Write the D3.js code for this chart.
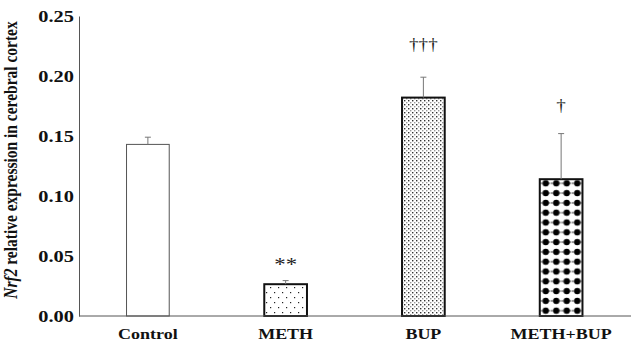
<!DOCTYPE html>
<html>
<head>
<meta charset="utf-8">
<script src="https://cdn.jsdelivr.net/npm/d3@7"></script>
<style>
  body { margin: 0; background: #fff; }
</style>
</head>
<body>
<div id="chart"></div>
<script>
// chart data
const groups = ["Control", "METH", "BUP", "METH+BUP"];
const means = [0.143, 0.0265, 0.182, 0.114];
const errors = [0.006, 0.003, 0.017, 0.038];
const marks = ["", "**", "\u2020\u2020\u2020", "\u2020"];
const yTicks = [0, 0.05, 0.10, 0.15, 0.20, 0.25];

const width = 631, height = 343;
const serif = "'Liberation Serif', 'Times New Roman', serif";
const stretch = 1.2; // the original figure is a bit wider than tall

const svg = d3.select("#chart").append("svg")
    .attr("width", width)
    .attr("height", height);

// patterns for the bars
const defs = svg.append("defs");

// sparse dots (METH)
const p1 = defs.append("pattern").attr("id", "sparse")
    .attr("patternUnits", "userSpaceOnUse").attr("width", 8).attr("height", 10);
p1.append("rect").attr("width", 8).attr("height", 10).attr("fill", "#fff");
p1.append("rect").attr("x", 2).attr("y", 2).attr("width", 1.2).attr("height", 1.2).attr("fill", "#222");
p1.append("rect").attr("x", 6).attr("y", 7).attr("width", 1.2).attr("height", 1.2).attr("fill", "#222");

// dense grey dots (BUP)
const p2 = defs.append("pattern").attr("id", "dense")
    .attr("patternUnits", "userSpaceOnUse").attr("width", 4).attr("height", 4);
p2.append("rect").attr("width", 4).attr("height", 4).attr("fill", "#fff");
p2.append("rect").attr("x", 0).attr("y", 0).attr("width", 1.4).attr("height", 1.4).attr("fill", "#333");
p2.append("rect").attr("x", 2).attr("y", 2).attr("width", 1.4).attr("height", 1.4).attr("fill", "#999");

// big black dots (METH+BUP)
const p3 = defs.append("pattern").attr("id", "bigdots")
    .attr("patternUnits", "userSpaceOnUse").attr("width", 10.5).attr("height", 9.8)
    .attr("x", 540.5).attr("y", 2);
p3.append("rect").attr("width", 10.5).attr("height", 9.8).attr("fill", "#fff");
p3.append("line").attr("x1", 0).attr("x2", 10.5).attr("y1", 4.9).attr("y2", 4.9)
    .attr("stroke", "#000").attr("stroke-width", 0.8).attr("stroke-dasharray", "2,2");
p3.append("circle").attr("cx", 5.25).attr("cy", 4.9).attr("r", 3.2).attr("fill", "#000");

const fills = ["#fff", "url(#sparse)", "url(#dense)", "url(#bigdots)"];

// scales
const x = d3.scaleBand()
    .domain(groups)
    .range([79, 630])
    .paddingInner(0.69)
    .paddingOuter(0.345);

const y = d3.scaleLinear()
    .domain([0, 0.25])
    .range([316, 16]);

// y axis
const yAxis = svg.append("g")
    .attr("transform", "translate(79,0)")
    .call(d3.axisLeft(y).tickValues(yTicks).tickFormat(d3.format(".2f")).tickSize(0).tickPadding(5));
yAxis.attr("font-family", serif);
yAxis.select(".domain").attr("stroke", "#555").attr("stroke-width", 1);
yAxis.selectAll("text")
    .attr("x", -5 / stretch)
    .attr("transform", `scale(${stretch},1)`)
    .attr("font-size", 17)
    .attr("font-weight", "bold")
    .attr("fill", "#111");

// bars
svg.selectAll("rect.bar")
    .data(groups)
    .enter().append("rect")
    .attr("class", "bar")
    .attr("x", d => x(d))
    .attr("y", (d, i) => y(means[i]))
    .attr("width", x.bandwidth())
    .attr("height", (d, i) => y(0) - y(means[i]))
    .attr("fill", (d, i) => fills[i])
    .attr("stroke", (d, i) => i === 0 ? "#555" : "#111")
    .attr("stroke-width", (d, i) => i === 0 ? 1 : 2);

// error bars (upper only)
groups.forEach((g, i) => {
    const cx = x(g) + x.bandwidth() / 2;
    svg.append("line")
        .attr("x1", cx).attr("x2", cx)
        .attr("y1", y(means[i])).attr("y2", y(means[i] + errors[i]))
        .attr("stroke", "#777").attr("stroke-width", 1);
    svg.append("line")
        .attr("x1", cx - 3).attr("x2", cx + 3)
        .attr("y1", y(means[i] + errors[i])).attr("y2", y(means[i] + errors[i]))
        .attr("stroke", "#777").attr("stroke-width", 1);
});

// x baseline
svg.append("line")
    .attr("x1", 79).attr("x2", 631)
    .attr("y1", y(0)).attr("y2", y(0))
    .attr("stroke", "#555").attr("stroke-width", 1);

// x labels
svg.selectAll("text.xlab")
    .data(groups)
    .enter().append("text")
    .attr("class", "xlab")
    .attr("transform", d => `translate(${x(d) + x.bandwidth() / 2},339) scale(${stretch},1)`)
    .attr("text-anchor", "middle")
    .attr("font-family", serif)
    .attr("font-size", 15)
    .attr("font-weight", "bold")
    .attr("fill", "#111")
    .text(d => d);

// significance marks
const markY = [0, 271, 50, 111];
svg.selectAll("text.mark")
    .data(groups)
    .enter().append("text")
    .attr("class", "mark")
    .attr("transform", (d, i) => `translate(${x(d) + x.bandwidth() / 2},${markY[i]}) scale(${stretch},1)`)
    .attr("text-anchor", "middle")
    .attr("font-family", serif)
    .attr("font-size", (d, i) => i === 1 ? 19 : 16)
    .attr("fill", "#222")
    .text((d, i) => marks[i]);

// y axis title
const yt = svg.append("text")
    .attr("transform", `translate(17,160) scale(${stretch},1) rotate(-90)`)
    .attr("text-anchor", "middle")
    .attr("font-family", serif)
    .attr("font-size", 15.5)
    .attr("font-weight", "bold")
    .attr("fill", "#111");
yt.append("tspan").attr("font-style", "italic").text("Nrf2");
yt.append("tspan").text(" relative expression in cerebral cortex");
</script>
</body>
</html>
